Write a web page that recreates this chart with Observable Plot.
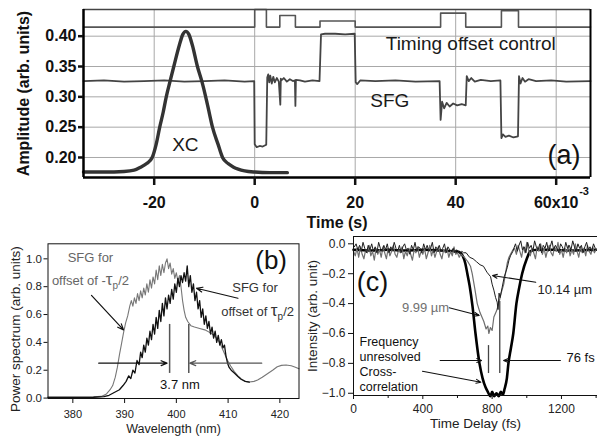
<!DOCTYPE html>
<html><head><meta charset="utf-8">
<script src="https://cdn.jsdelivr.net/npm/d3@7"></script>
<script src="https://cdn.jsdelivr.net/npm/@observablehq/plot@0.6"></script>
<style>
body{margin:0;background:#fff}
#fig{position:relative;width:597px;height:436px;background:#fff;overflow:hidden}
#fig svg{position:absolute;overflow:visible}
</style></head><body><div id="fig"></div>
<script>
const FONT = "'Liberation Sans', Arial, Helvetica, sans-serif";

// ---------- Panel (a) data ----------
const aXTicks = [-20, 0, 20, 40, 60];
const aYTicks = [0.20, 0.25, 0.30, 0.35, 0.40];
const aXDomain = [-34.07, 66.83];
const aYDomain = [0.167, 0.444];
const aTimingT = [-34.07, 0, 0, 2.33, 2.33, 5.0, 5.0, 8.1, 8.1, 13.0, 13.0, 20.0, 20.0, 37.0, 37.0, 42.0, 42.0, 49.1, 49.1, 52.5, 52.5, 66.83];
const aTimingV = [0.415, 0.415, 0.444, 0.444, 0.415, 0.415, 0.434, 0.434, 0.415, 0.415, 0.425, 0.425, 0.415, 0.415, 0.438, 0.438, 0.415, 0.415, 0.442, 0.442, 0.415, 0.415];
const aSfgT = [-34.07,-30,-26,-22,-18,-14,-10,-6,-2,-0.1, 0.0,0.4,1.0,1.6,2.3, 2.5,2.7,2.9,3.1,3.4,3.7,4.0,4.4,4.8, 5.1,5.2,5.3, 5.8,6.4,7.0,7.6, 8.0,8.1,8.2, 9.0,10.0,11.5,12.9, 13.2,14.0,16.0,18.0,19.9, 20.1,20.4,21.0,24.0,28.0,32.0,36.8, 37.0,37.3,37.7,38.2,38.8,39.5,40.3,41.2,42.0, 42.2,42.6,43.1,43.8,45.0,47.0,48.9, 49.1,49.4,49.9,50.6,51.5,52.4, 52.6,52.9,53.3,53.8,54.5,56.0,59.0,62.0,66.83];
const aSfgV = [0.326,0.327,0.325,0.326,0.327,0.325,0.326,0.327,0.325,0.326, 0.222,0.217,0.219,0.218,0.221, 0.332,0.337,0.324,0.335,0.322,0.333,0.324,0.331,0.325, 0.287,0.33,0.327, 0.331,0.325,0.329,0.326, 0.327,0.285,0.328, 0.327,0.325,0.327,0.326, 0.403,0.404,0.404,0.403,0.404, 0.324,0.321,0.327,0.326,0.327,0.325,0.326, 0.262,0.292,0.281,0.290,0.284,0.289,0.286,0.288,0.286, 0.334,0.326,0.331,0.325,0.328,0.326,0.327, 0.232,0.238,0.234,0.236,0.233,0.235, 0.334,0.322,0.331,0.325,0.329,0.326,0.327,0.325,0.326];
const aXcT = [-34.07,-30,-26,-24,-22.7,-21.5,-20.4,-19.6,-18.9,-18.2,-17.6,-16.8,-16.1,-15.0,-14.3,-13.7,-13.1,-12.4,-11.4,-10.5,-9.75,-9.0,-8.4,-7.3,-6.4,-5.3,-4.2,-2.0,0,3,6.5];
const aXcV = [0.176,0.176,0.177,0.179,0.184,0.19,0.20,0.222,0.25,0.275,0.30,0.327,0.35,0.385,0.403,0.408,0.403,0.385,0.35,0.325,0.30,0.272,0.25,0.222,0.20,0.19,0.184,0.178,0.176,0.175,0.175];
const aLabels = ["XC", "SFG", "Timing offset control"];
const aLabelX = [-13.8, 26.9, 43.0];
const aLabelY = [0.22, 0.294, 0.388];

// ---------- Panel (b) data ----------
const bXTicks = [380, 390, 400, 410, 420];
const bYTicks = [0, 0.2, 0.4, 0.6, 0.8, 1.0];
const bXDomain = [375.2, 423.7];
const bYDomain = [-0.003, 1.108];
const bWlA = [375.2,380,384,385.5,386.5,387.2,387.7,388.2,388.6,389.0,389.4,389.8,390.2,390.6,391.0,391.3,391.6,391.9,392.2,392.5,392.8,393.1,393.4,393.7,394.0,394.3,394.6,394.9,395.2,395.5,395.8,396.1,396.4,396.7,397.0,397.3,397.6,397.9,398.2,398.5,398.8,399.1,399.4,399.7,400.0,400.3,400.6,400.9,401.2,401.5,401.8,402.2,402.8,403.5,404.5,405.5,406.5,407.3,408.0,408.6,409.3,409.9,410.5,411.2,411.9,412.5,413.3,414.1,415.0,415.7,416.6,417.6,418.6,419.5,420.3,421.2,422.2,423.0,423.7];
const bPowA = [0.008,0.008,0.009,0.012,0.03,0.06,0.09,0.15,0.22,0.31,0.39,0.47,0.54,0.59,0.66,0.70,0.66,0.72,0.68,0.75,0.70,0.77,0.72,0.79,0.74,0.82,0.76,0.85,0.79,0.87,0.82,0.92,0.85,0.95,0.88,0.96,0.90,0.97,1.0,0.93,0.97,0.89,0.93,0.86,0.90,0.84,0.88,0.80,0.70,0.63,0.58,0.55,0.52,0.51,0.50,0.49,0.47,0.45,0.42,0.38,0.32,0.27,0.23,0.19,0.16,0.14,0.12,0.115,0.12,0.13,0.15,0.175,0.20,0.225,0.235,0.238,0.232,0.222,0.21];
const bWlB = [375.2,384,386,387,388,389,389.7,390.3,390.8,391.2,391.6,392.0,392.4,392.8,393.1,393.4,393.7,394.0,394.3,394.6,394.9,395.2,395.5,395.8,396.1,396.4,396.7,397.0,397.3,397.6,397.9,398.2,398.5,398.8,399.1,399.4,399.7,400.0,400.3,400.6,400.9,401.2,401.5,401.8,402.1,402.4,402.7,403.0,403.3,403.6,403.9,404.2,404.5,404.8,405.1,405.4,405.7,406.0,406.3,406.6,406.9,407.2,407.5,407.8,408.1,408.4,408.7,409.0,409.3,409.6,409.9,410.2,410.6,411.2,411.9,412.5,413.3,414.1];
const bPowB = [0.005,0.006,0.01,0.02,0.04,0.06,0.09,0.12,0.16,0.14,0.20,0.18,0.27,0.24,0.33,0.29,0.38,0.33,0.43,0.38,0.48,0.42,0.53,0.46,0.58,0.50,0.63,0.55,0.68,0.59,0.72,0.64,0.74,0.68,0.78,0.71,0.82,0.76,0.86,0.80,0.88,0.83,0.90,0.84,0.95,0.80,0.88,0.76,0.82,0.70,0.76,0.64,0.70,0.58,0.64,0.53,0.59,0.50,0.55,0.46,0.51,0.43,0.48,0.40,0.45,0.38,0.42,0.36,0.38,0.30,0.25,0.22,0.20,0.18,0.155,0.135,0.12,0.115];
const bMarkX = [398.7, 402.4];
const bMarkY = [0.177, 0.529];
const bArrows = [
  {x1: 385.0, y1: 0.251, x2: 398.2, y2: 0.251, c: "#111"},
  {x1: 416.5, y1: 0.251, x2: 402.6, y2: 0.251, c: "#555"},
  {x1: 383.6, y1: 0.737, x2: 389.8, y2: 0.49, c: "#111"},
  {x1: 411.9, y1: 0.717, x2: 403.9, y2: 0.789, c: "#111"}
];
const bNotes = [
  {t: "SFG for", x: 383.4, y: 1.009, c: "#666"},
  {t: "offset of -τp/2", x: 383.4, y: 0.844, c: "#666"},
  {t: "SFG for", x: 415.2, y: 0.794, c: "#333"},
  {t: "offset of τp/2", x: 415.7, y: 0.617, c: "#333"},
  {t: "3.7 nm", x: 400.7, y: 0.098, c: "#111"}
];

// ---------- Panel (c) data ----------
const cXTicks = [0, 400, 800, 1200];
const cXMinor = [200, 600, 1000, 1400];
const cYTicks = [0, -0.2, -0.4, -0.6, -0.8, -1.0];
const cXDomain = [0, 1408];
const cYDomain = [-1.015, 0.049];
const cXcT = [0,100,200,300,400,500,580,610,630,645,657,670,687,704,727,745,762,775,790,800,812,825,838,850,862,872,885,894,908,922,940,955,973,1000,1021,1060,1150,1250,1408];
const cXcV = [-0.04,-0.045,-0.04,-0.045,-0.04,-0.045,-0.05,-0.055,-0.08,-0.13,-0.2,-0.28,-0.42,-0.6,-0.8,-0.9,-0.96,-0.99,-1.02,-0.99,-1.02,-1.0,-1.02,-0.99,-1.01,-0.97,-0.9,-0.8,-0.7,-0.6,-0.4,-0.3,-0.2,-0.1,-0.05,-0.04,-0.04,-0.045,-0.04];
const cGrayPreV = [-0.05,-0.08,-0.03,-0.09,-0.02,-0.07,-0.10,-0.04,-0.06,-0.01, -0.08,-0.05,-0.11,-0.03,-0.07,-0.04,-0.09,-0.02,-0.06,-0.10, -0.03,-0.08,-0.05,-0.01,-0.07,-0.09,-0.04,-0.06,-0.02,-0.10, -0.05,-0.08,-0.03,-0.07,-0.11,-0.04,-0.06,-0.02,-0.09,-0.05, -0.07,-0.03,-0.10,-0.06,-0.01,-0.08,-0.04,-0.09,-0.05,-0.02, -0.07,-0.10,-0.04,-0.06,-0.03,-0.09,-0.05,-0.08,-0.02,-0.07, -0.06,-0.09,-0.07,-0.08];
const cGrayDipT = [640,660,675,685,700,714,730,752,765,775,781,790,800,810,825,838,852,867,877,887,897,906,920];
const cGrayDipV = [-0.09,-0.12,-0.15,-0.2,-0.3,-0.4,-0.46,-0.52,-0.57,-0.55,-0.6,-0.56,-0.58,-0.49,-0.45,-0.4,-0.33,-0.27,-0.2,-0.13,-0.09,-0.07,-0.04];
const cGrayPostV = [-0.03,-0.07,-0.01,-0.05,-0.09,-0.02,-0.06,0.01,-0.04,-0.08, -0.03,-0.06,-0.10,-0.02,-0.05,0.0,-0.07,-0.03,-0.09,-0.04, -0.01,-0.06,-0.08,-0.02,-0.05,0.01,-0.07,-0.04,-0.09,-0.03, -0.06,-0.01,-0.08,-0.04,-0.07,0.0,-0.05,-0.09,-0.02,-0.06, -0.03,-0.08,-0.01,-0.05,-0.07,-0.02,-0.06,-0.04];
const cDarkPreV = [-0.02,0.0,-0.04,-0.01,-0.05,0.01,-0.03,-0.06,-0.01,-0.04, 0.0,-0.05,-0.02,-0.06,0.01,-0.03,-0.05,-0.01,-0.04,0.0, -0.06,-0.02,-0.04,0.01,-0.03,-0.05,-0.01,-0.06,-0.02,0.0, -0.04,-0.03,-0.07,-0.01,-0.04,0.01,-0.05,-0.02,-0.03,-0.06, 0.0,-0.04,-0.01,-0.05,-0.03,0.01,-0.06,-0.02,-0.04,-0.01, -0.05,-0.03,0.0,-0.06,-0.02,-0.04,-0.05,-0.03,-0.06,-0.04, -0.05,-0.07,-0.05,-0.06];
const cDarkDipT = [650,670,690,710,730,750,770,791,800,810,820,829,834,840,846,858,870,887,897,906,920];
const cDarkDipV = [-0.06,-0.09,-0.1,-0.12,-0.14,-0.15,-0.19,-0.22,-0.27,-0.31,-0.36,-0.39,-0.44,-0.33,-0.36,-0.29,-0.22,-0.16,-0.11,-0.08,-0.05];
const cDarkPostV = [-0.03,0.0,-0.05,-0.01,0.02,-0.04,-0.02,-0.06,0.01,-0.03, -0.01,-0.05,0.02,-0.02,-0.04,0.0,-0.06,-0.01,-0.03,0.01, -0.05,-0.02,0.02,-0.04,-0.01,-0.03,-0.06,0.0,-0.02,-0.05, 0.01,-0.03,-0.01,-0.04,0.02,-0.02,-0.05,0.0,-0.03,-0.01, -0.06,-0.02,0.01,-0.04,-0.02,-0.05,0.0,-0.03];
const cVLineX = [779, 844];
const cVLineTop = [-0.681, -0.386];
const cVLineBot = [-0.868, -0.868];
const cArrows = [
  {x1: 500, y1: -0.781, x2: 739, y2: -0.781},
  {x1: 1194, y1: -0.781, x2: 866, y2: -0.781},
  {x1: 1052, y1: -0.257, x2: 802, y2: -0.212},
  {x1: 552, y1: -0.428, x2: 725, y2: -0.48},
  {x1: 398, y1: -0.853, x2: 735, y2: -0.926}
];
const cNoteText = ["Frequency", "unresolved", "Cross-", "correlation"];
const cNoteY = [-0.659, -0.759, -0.859, -0.96];

// ---------- helpers ----------
const rows = (xs, ys) => xs.map((x, i) => ({x, y: ys[i]}));
const fig = document.getElementById("fig");
function place(svg, left, top) { svg.style.left = left + "px"; svg.style.top = top + "px"; fig.appendChild(svg); }
const baseStyle = {fontFamily: FONT, fontSize: "12px", background: "transparent", overflow: "visible", color: "#111"};

// ---------- Panel (a) ----------
const pa = Plot.plot({
  width: 597, height: 232, marginLeft: 83, marginRight: 7, marginTop: 9, marginBottom: 55,
  style: baseStyle,
  x: {domain: aXDomain}, y: {domain: aYDomain},
  marks: [
    Plot.ruleX(aXTicks, {x: d => d, stroke: "#a8a8a8", strokeOpacity: 1, strokeWidth: 1}),
    Plot.ruleY(aYTicks, {y: d => d, stroke: "#a8a8a8", strokeOpacity: 1, strokeWidth: 1}),
    Plot.line(rows(aTimingT, aTimingV), {x: "x", y: "y", stroke: "#555", strokeWidth: 1.6}),
    Plot.line(rows(aSfgT, aSfgV), {x: "x", y: "y", stroke: "#444", strokeWidth: 1.8}),
    Plot.line(rows(aXcT, aXcV), {x: "x", y: "y", stroke: "#333", strokeWidth: 3.4, curve: "monotone-x"}),
    Plot.ruleY([aYDomain[1]], {stroke: "#444", strokeWidth: 1.5}),
    Plot.ruleX([aXDomain[1]], {stroke: "#000", strokeWidth: 2}),
    Plot.ruleX([aXDomain[0]], {stroke: "#000", strokeWidth: 2.5}),
    Plot.ruleY([aYDomain[0]], {stroke: "#000", strokeWidth: 2.5}),
    Plot.axisX({ticks: aXTicks, tickSize: 8, tickPadding: 11, strokeWidth: 2.5, fontSize: 16, fontWeight: "bold",
      tickFormat: d => d === 60 ? "60x10" : String(d), label: null}),
    Plot.axisY({ticks: aYTicks, tickSize: 5, tickPadding: 2, strokeWidth: 2.5, fontSize: 16, fontWeight: "bold",
      tickFormat: d3.format(".2f"), label: null}),
    Plot.text(["-3"], {x: () => 60, frameAnchor: "bottom", lineAnchor: "middle", dx: 23, dy: 14, text: d => d, fontSize: 11, fontWeight: "bold", textAnchor: "start"}),
    Plot.text(["Time (s)"], {frameAnchor: "bottom", lineAnchor: "middle", dy: 45, text: d => d, fontSize: 16, fontWeight: "bold"}),
    Plot.text(["Amplitude (arb. units)"], {frameAnchor: "left", textAnchor: "middle", lineAnchor: "middle", dx: -60, rotate: -90, text: d => d, fontSize: 16, fontWeight: "bold"}),
    Plot.text(aLabels, {x: (d, i) => aLabelX[i], y: (d, i) => aLabelY[i], text: d => d, fontSize: 19, fill: "#1a1a1a"}),
    Plot.text(["(a)"], {frameAnchor: "bottom-right", lineAnchor: "middle", dx: -10, dy: -22, text: d => d, fontSize: 27, fill: "#111", textAnchor: "end"})
  ]
});
place(pa, 0, 0);

// ---------- Panel (b) ----------
const pb = Plot.plot({
  width: 300, height: 204, marginLeft: 47.5, marginRight: 1.5, marginTop: 11.3, marginBottom: 38,
  style: baseStyle,
  x: {domain: bXDomain}, y: {domain: bYDomain},
  marks: [
    Plot.line(rows(bWlA, bPowA), {x: "x", y: "y", stroke: "#777", strokeWidth: 1.1}),
    Plot.line(rows(bWlB, bPowB), {x: "x", y: "y", stroke: "#111", strokeWidth: 1.3}),
    Plot.ruleX(bMarkX, {x: d => d, y1: () => bMarkY[0], y2: () => bMarkY[1], stroke: "#555", strokeWidth: 1.5}),
    Plot.arrow(bArrows, {x1: "x1", y1: "y1", x2: "x2", y2: "y2", stroke: "c", strokeWidth: 1.2, headLength: 8, headAngle: 45}),
    Plot.text(bNotes, {x: "x", y: "y", text: "t", fill: "c", fontSize: 13}),
    Plot.text(["(b)"], {frameAnchor: "top-right", lineAnchor: "middle", dx: -12, dy: 17, text: d => d, fontSize: 26, fill: "#111", textAnchor: "end"}),
    Plot.frame({stroke: "#111", strokeWidth: 1}),
    Plot.axisX({ticks: bXTicks, tickSize: 5, tickPadding: 7, fontSize: 11, fill: "#222", label: null}),
    Plot.axisY({ticks: bYTicks, tickSize: 4, tickPadding: 2, fontSize: 11.5, fill: "#222", tickFormat: d3.format(".1f"), label: null}),
    Plot.text(["Wavelength (nm)"], {frameAnchor: "bottom", lineAnchor: "middle", dy: 30.5, text: d => d, fontSize: 12.5, fill: "#222"}),
    Plot.text(["Power spectrum (arb. units)"], {frameAnchor: "left", textAnchor: "middle", lineAnchor: "middle", dx: -32.5, dy: 8, rotate: -90, text: d => d, fontSize: 13.5, fill: "#222"})
  ]
});
place(pb, 0, 232);

// ---------- Panel (c) ----------
const cGray = rows([...d3.range(0, 640, 10), ...cGrayDipT, ...d3.range(930, 1410, 10)], [...cGrayPreV, ...cGrayDipV, ...cGrayPostV]);
const cDark = rows([...d3.range(5, 645, 10), ...cDarkDipT, ...d3.range(925, 1405, 10)], [...cDarkPreV, ...cDarkDipV, ...cDarkPostV]);
const pc = Plot.plot({
  width: 300, height: 204, marginLeft: 56, marginRight: 0, marginTop: 4, marginBottom: 41,
  style: baseStyle,
  x: {domain: cXDomain}, y: {domain: cYDomain},
  marks: [
    Plot.line(rows(cXcT, cXcV), {x: "x", y: "y", stroke: "#000", strokeWidth: 2.6, curve: "monotone-x"}),
    Plot.line(cGray, {x: "x", y: "y", stroke: "#6e6e6e", strokeWidth: 1.2}),
    Plot.line(cDark, {x: "x", y: "y", stroke: "#1e1e1e", strokeWidth: 1.0}),
    Plot.ruleX(cVLineX, {x: d => d, y1: (d, i) => cVLineTop[i], y2: (d, i) => cVLineBot[i], stroke: "#444", strokeWidth: 1.3}),
    Plot.arrow(cArrows, {x1: "x1", y1: "y1", x2: "x2", y2: "y2", stroke: "#111", strokeWidth: 1.1, headLength: 7, headAngle: 45}),
    Plot.text(cNoteText, {x: () => 35, y: (d, i) => cNoteY[i], text: d => d, fontSize: 12.5, fill: "#111", textAnchor: "start"}),
    Plot.text(["76 fs"], {x: () => 1229, y: () => -0.761, text: d => d, fontSize: 13, fill: "#111", textAnchor: "start"}),
    Plot.text(["10.14 µm"], {x: () => 1062, y: () => -0.308, text: d => d, fontSize: 13, fill: "#222", textAnchor: "start"}),
    Plot.text(["9.99 µm"], {x: () => 552, y: () => -0.431, text: d => d, fontSize: 13, fill: "#707070", textAnchor: "end"}),
    Plot.text(["(c)"], {x: () => 110, y: () => -0.257, text: d => d, fontSize: 27, fill: "#111"}),
    Plot.ruleY([cYDomain[1]], {stroke: "#111", strokeWidth: 1}),
    Plot.ruleY([cYDomain[0]], {stroke: "#111", strokeWidth: 1}),
    Plot.ruleX([cXDomain[0]], {stroke: "#111", strokeWidth: 1}),
    Plot.axisX({ticks: cXMinor, tickSize: 3, label: null, tickFormat: () => ""}),
    Plot.axisX({ticks: cXTicks, tickSize: 4, tickPadding: 5, fontSize: 12, fill: "#222", tickFormat: d => String(d), label: null}),
    Plot.axisY({ticks: cYTicks, tickSize: 5, tickPadding: 3, fontSize: 12, fill: "#222", tickFormat: d3.format(".1f"), label: null}),
    Plot.text(["Time Delay (fs)"], {frameAnchor: "bottom", lineAnchor: "middle", dy: 28, text: d => d, fontSize: 13.5, fill: "#222"}),
    Plot.text(["Intensity (arb. unit)"], {frameAnchor: "left", textAnchor: "middle", lineAnchor: "middle", dx: -41, rotate: -90, text: d => d, fontSize: 13.5, fill: "#222"})
  ]
});
place(pc, 297, 232);

// subscript formatting for τp
d3.select(pb).selectAll("text").each(function () {
  const s = this.textContent;
  if (s.includes("τp/2")) {
    const pre = s.split("τp/2")[0];
    const t = d3.select(this);
    t.text(null);
    t.append("tspan").text(pre);
    t.append("tspan").attr("font-size", "17").text("τ");
    t.append("tspan").attr("font-size", "10").attr("dy", "4").text("p");
    t.append("tspan").attr("dy", "-4").text("/2");
  }
});
</script></body></html>
